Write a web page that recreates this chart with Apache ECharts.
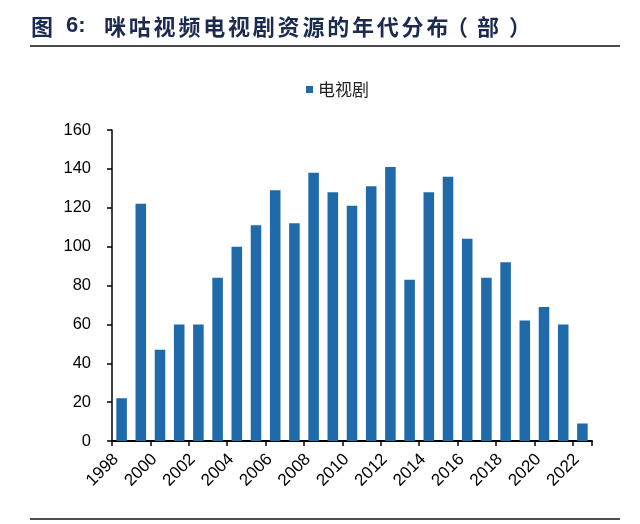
<!DOCTYPE html>
<html><head><meta charset="utf-8">
<script src="https://cdn.jsdelivr.net/npm/echarts@6/dist/echarts.min.js"></script>
<style>html,body{margin:0;padding:0;background:#fff}#c{width:640px;height:524px}</style>
</head><body><div id="c"></div>
<script>
const years = ['1998','1999','2000','2001','2002','2003','2004','2005','2006','2007','2008','2009','2010','2011','2012','2013','2014','2015','2016','2017','2018','2019','2020','2021','2022'];
const dramas = [22,122,47,60,60,84,100,111,129,112,138,128,121,131,141,83,128,136,104,84,92,62,69,60,9];
const yTicks = {min:0, max:160, interval:20};
const seriesName = '电视剧';
const titleHead = ['图', '6:'];
const titleBody = '咪咕视频电视剧资源的年代分布';
const titleTail = ['（', '部', '）'];

const titleFont = 'bold 22px "Noto Sans CJK SC"';
const titleColor = '#1b2a4e';
const tTop = 16;
const graphics = [
  {type:'text', left:31, top:tTop, style:{text:titleHead[0], font:titleFont, fill:titleColor}},
  {type:'text', left:66, top:tTop - 1, style:{text:titleHead[1], font:'bold 22px "Liberation Sans"', fill:titleColor}},
  {type:'line', shape:{x1:30,y1:46,x2:620,y2:46}, style:{stroke:'#111', lineWidth:1.5}},
  {type:'line', shape:{x1:30,y1:519,x2:620,y2:519}, style:{stroke:'#111', lineWidth:1.5}}
];
Array.from(titleBody).forEach((ch, i) => {
  graphics.push({type:'text', left:104 + i*24.8, top:tTop, style:{text:ch, font:titleFont, fill:titleColor}});
});
const tailX = [446, 477, 509];
titleTail.forEach((ch, i) => {
  graphics.push({type:'text', left:tailX[i], top:tTop, style:{text:ch, font:titleFont, fill:titleColor}});
});

const chart = echarts.init(document.getElementById('c'), null, {renderer:'canvas'});
chart.setOption({
  animation:false,
  backgroundColor:'#fff',
  graphic:graphics,
  legend:{
    data:[seriesName], left:301, top:76, icon:'rect', itemWidth:7, itemHeight:7, itemGap:6,
    textStyle:{fontFamily:'Noto Sans CJK SC', fontSize:17, color:'#222'}
  },
  grid:{left:112, right:48, top:130, bottom:83, containLabel:false},
  xAxis:{
    type:'category', data:years, boundaryGap:true,
    axisLine:{lineStyle:{color:'#000', width:2}},
    axisTick:{show:true, interval:1, length:5, lineStyle:{color:'#000', width:1.5}},
    axisLabel:{interval:1, rotate:45, margin:10, padding:[0,8,0,0], fontFamily:'Liberation Sans, Arial', fontSize:17, color:'#000'},
    splitLine:{show:false}
  },
  yAxis:{
    type:'value', min:yTicks.min, max:yTicks.max, interval:yTicks.interval,
    axisLine:{show:true, lineStyle:{color:'#000', width:1.5}},
    axisTick:{show:true, length:5, inside:false, lineStyle:{color:'#000', width:1.5}},
    axisLabel:{margin:21, fontFamily:'Liberation Sans, Arial', fontSize:16.5, color:'#000'},
    splitLine:{show:false}
  },
  series:[{
    name:seriesName, type:'bar', data:dramas, barCategoryGap:'45%',
    itemStyle:{color:'#1f6aa9'}
  }]
});
</script></body></html>
